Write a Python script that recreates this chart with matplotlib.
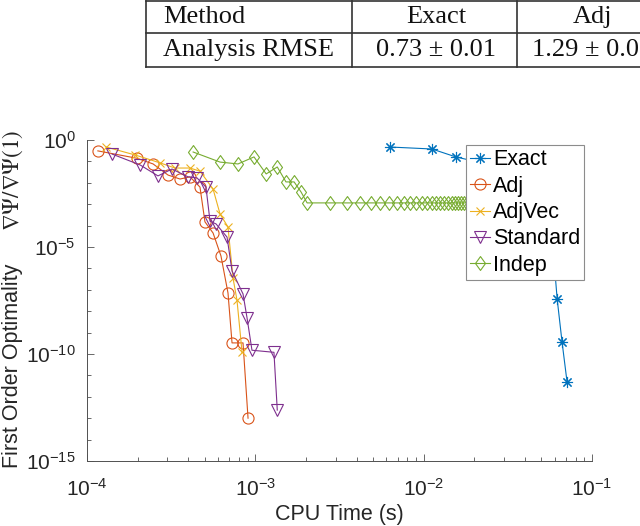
import matplotlib
matplotlib.use("Agg")
import matplotlib.pyplot as plt
from matplotlib.path import Path
from matplotlib.ticker import LogLocator, NullFormatter

# Data (CPU time in s, first order optimality)
exact_t = [6.3e-3, 1.12e-2, 1.56e-2, 3.0e-2, 4.5e-2, 5.5e-2, 6.0e-2, 6.21e-2, 6.64e-2, 7.11e-2]
exact_y = [0.47, 0.38, 0.16, 5e-2, 1e-2, 1e-4, 1e-6, 3.7e-8, 3.6e-10, 4.9e-12]

adj_t = [1.16e-4, 1.98e-4, 2.47e-4, 3.03e-4, 3.57e-4, 4.09e-4, 4.69e-4, 5.02e-4,
         5.61e-4, 6.25e-4, 6.88e-4, 7.27e-4, 8.45e-4, 9.05e-4]
adj_y = [0.31, 0.14, 0.076, 0.023, 0.015, 0.019, 6.3e-3, 1.5e-4,
         4.5e-5, 3.8e-6, 7.1e-8, 3.3e-10, 3.3e-10, 1.0e-13]

adjvec_t = [1.30e-4, 1.93e-4, 2.72e-4, 3.33e-4, 4.09e-4, 4.69e-4, 5.61e-4, 6.17e-4,
            6.88e-4, 7.37e-4, 7.78e-4, 8.34e-4]
adjvec_y = [0.47, 0.20, 0.085, 0.049, 0.049, 0.035, 5.1e-3, 3.5e-4,
            8.6e-5, 3.5e-7, 3.3e-8, 1.2e-10]

std_t = [1.41e-4, 2.07e-4, 2.64e-4, 3.20e-4, 3.98e-4, 4.50e-4, 5.09e-4, 5.38e-4,
         5.84e-4, 6.79e-4, 7.27e-4, 8.45e-4, 8.93e-4, 9.55e-4, 1.29e-3, 1.35e-3]
std_y = [0.22, 0.068, 0.021, 0.044, 0.019, 0.017, 6.3e-3, 1.6e-4,
         1.2e-4, 2.9e-5, 7.6e-7, 6.4e-8, 4.8e-9, 1.5e-10, 1.2e-10, 2.4e-13]

indep_t = [4.27e-4, 6.17e-4, 7.89e-4, 9.82e-4, 1.16e-3, 1.35e-3, 1.52e-3, 1.70e-3,
           1.87e-3, 2.03e-3, 2.78e-3, 3.51e-3, 4.19e-3, 4.87e-3, 5.50e-3, 6.22e-3,
           6.95e-3, 7.65e-3, 8.35e-3, 9.05e-3, 9.75e-3, 1.045e-2, 1.115e-2, 1.185e-2,
           1.255e-2, 1.325e-2, 1.395e-2, 1.465e-2, 1.535e-2, 1.605e-2, 1.675e-2,
           1.745e-2, 1.815e-2]
indep_y = [0.275, 0.093, 0.076, 0.162, 0.026, 0.055, 0.011, 0.011,
           3.7e-3, 1.15e-3, 1.15e-3, 1.15e-3, 1.15e-3, 1.15e-3, 1.15e-3, 1.15e-3,
           1.15e-3, 1.15e-3, 1.15e-3, 1.15e-3, 1.15e-3, 1.15e-3, 1.15e-3, 1.15e-3,
           1.15e-3, 1.15e-3, 1.15e-3, 1.15e-3, 1.15e-3, 1.15e-3, 1.15e-3,
           1.15e-3, 1.15e-3]

# Table above the plot (cut off at the right edge in the reference)
table_header = ["Method", "Exact", "Adj"]
table_row = ["Analysis RMSE", "0.73 \u00b1 0.01", "1.29 \u00b1 0.01"]

plt.rcParams['font.family'] = ['Liberation Sans', 'DejaVu Sans']
plt.rcParams['mathtext.fontset'] = 'stix'

W, H = 640, 526
fig = plt.figure(figsize=(W / 100, H / 100), dpi=100)
ax = fig.add_axes([87 / W, 1 - 461 / H, (592 - 87) / W, (461 - 140) / H])

# MATLAB-like diamond, a bit taller than wide
diamond = Path([(0, 1), (0.72, 0), (0, -1), (-0.72, 0), (0, 1)],
               [Path.MOVETO, Path.LINETO, Path.LINETO, Path.LINETO, Path.CLOSEPOLY])

lw = 0.8
ax.plot(exact_t, exact_y, color='#0072BD', marker=(8, 2, 0), ms=8, lw=lw, mew=0.8, label='Exact')
ax.plot(adj_t, adj_y, color='#D95319', marker='o', ms=8, mfc='none', lw=lw, mew=0.8, label='Adj')
ax.plot(adjvec_t, adjvec_y, color='#EDB120', marker='x', ms=6, lw=lw, mew=0.8, label='AdjVec')
ax.plot(std_t, std_y, color='#7E2F8E', marker='v', ms=9, mfc='none', lw=lw, mew=0.8, label='Standard')
ax.plot(indep_t, indep_y, color='#77AC30', marker=diamond, ms=10, mfc='none', lw=lw, mew=0.8, label='Indep')

ax.set_xscale('log')
ax.set_yscale('log')
ax.set_xlim(1e-4, 1e-1)
ax.set_ylim(1e-15, 1e0)
ax.xaxis.set_major_locator(LogLocator(base=10, numticks=10))
ax.xaxis.set_minor_locator(LogLocator(base=10, subs=range(2, 10), numticks=20))
ax.xaxis.set_minor_formatter(NullFormatter())
ax.set_yticks([1e-15, 1e-10, 1e-5, 1e0])
ax.yaxis.set_minor_locator(LogLocator(base=10, subs=[1.0], numticks=40))
ax.yaxis.set_minor_formatter(NullFormatter())

axcol = '#505050'
for s in ['top', 'right']:
    ax.spines[s].set_visible(False)
for s in ['left', 'bottom']:
    ax.spines[s].set_color(axcol)
    ax.spines[s].set_linewidth(0.7)
ax.tick_params(which='both', direction='in', colors=axcol, labelcolor='#262626', width=0.6)
ax.tick_params(which='major', length=5, labelsize=15)
ax.tick_params(which='minor', length=3)
ax.tick_params(axis='x', which='major', pad=12)
ax.tick_params(axis='y', which='major', pad=8)

ax.set_xlabel('CPU Time (s)', fontsize=15.5, color='#262626', labelpad=3)

# y label: sans part plus serif math part
fig.text(13 / W, 1 - 366 / H, 'First Order Optimality', rotation=90, ha='center', va='center',
         fontsize=15.5, color='#262626')
fig.text(13 / W, 1 - 180 / H, r'$\nabla\Psi/\nabla\Psi(1)$', rotation=90, ha='center', va='center',
         fontsize=16.5, color='#262626')

leg = ax.legend(loc='upper left', bbox_to_anchor=(466 / W, 1 - 145 / H), bbox_transform=fig.transFigure,
                fontsize=15.5, borderaxespad=0, borderpad=0.2, handlelength=0.9, handletextpad=0.15,
                labelspacing=0.25, fancybox=False, framealpha=1, edgecolor='#8c8c8c')
leg.get_frame().set_linewidth(0.8)

# Table
tcol = '#333333'
serif = ['Liberation Serif', 'DejaVu Serif']
for yy in [1, 33, 67]:
    fig.add_artist(plt.Line2D([146 / W, 1.0], [1 - yy / H, 1 - yy / H], color=tcol, lw=1.2))
for xx in [146, 352, 517]:
    fig.add_artist(plt.Line2D([xx / W, xx / W], [1 - 1 / H, 1 - 67 / H], color=tcol, lw=1.2))
col_x = [163, 436, 592]
col_ha = ['left', 'center', 'center']
for i in range(3):
    fig.text(col_x[i] / W, 1 - 17 / H, table_header[i], ha=col_ha[i], va='center',
             family=serif, fontsize=19, color='#111111')
    fig.text(col_x[i] / W, 1 - 50 / H, table_row[i], ha=col_ha[i], va='center',
             family=serif, fontsize=19, color='#111111')

fig.savefig('out.png', dpi=100)
